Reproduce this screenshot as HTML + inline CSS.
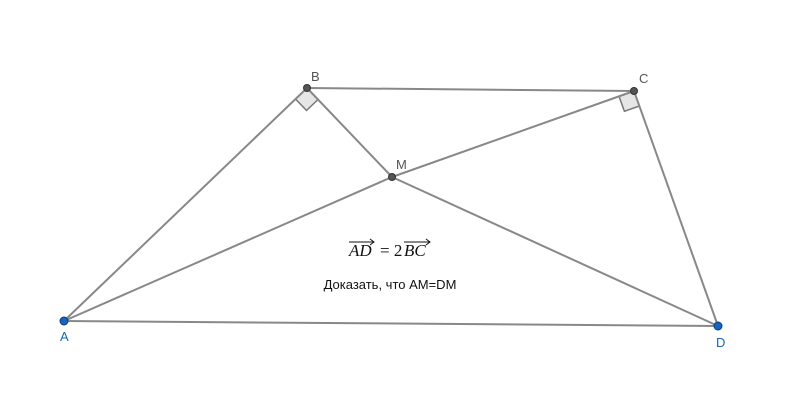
<!DOCTYPE html>
<html><head><meta charset="utf-8"><style>
body{margin:0;background:#fff;width:800px;height:413px;overflow:hidden}
</style></head><body>
<svg width="800" height="413" xmlns="http://www.w3.org/2000/svg">
<g stroke="#888" stroke-width="2" fill="none">
<polygon points="307,88 295.5,99 306.5,110.5 318,99.5" fill="#e6e6e6" stroke="#777" stroke-width="1.5"/>
<polygon points="634,91 619,96.3 624.4,111.3 639.4,106" fill="#e6e6e6" stroke="#777" stroke-width="1.5"/>
<line x1="64" y1="321" x2="307" y2="88"/>
<line x1="307" y1="88" x2="634" y2="91"/>
<line x1="634" y1="91" x2="718" y2="326"/>
<line x1="64" y1="321" x2="718" y2="326"/>
<line x1="64" y1="321" x2="392" y2="177"/>
<line x1="392" y1="177" x2="634" y2="91"/>
<line x1="307" y1="88" x2="392" y2="177"/>
<line x1="392" y1="177" x2="718" y2="326"/>
</g>
<g stroke="#333" stroke-width="1">
<circle cx="307" cy="88" r="3.5" fill="#555"/>
<circle cx="634" cy="91" r="3.5" fill="#555"/>
<circle cx="392" cy="177" r="3.5" fill="#555"/>
<circle cx="64" cy="321" r="4" fill="#1565c0" stroke="#0d3c7a"/>
<circle cx="718" cy="326" r="4" fill="#1565c0" stroke="#0d3c7a"/>
</g>
<g font-family="Liberation Sans, sans-serif" font-size="13">
<text x="311" y="81" fill="#555">B</text>
<text x="639" y="83" fill="#555">C</text>
<text x="396" y="169" fill="#555">M</text>
<text x="60" y="341" fill="#1565c0">A</text>
<text x="716" y="347" fill="#1565c0">D</text>
<text x="390" y="289" fill="#111" text-anchor="middle">Доказать, что AM=DM</text>
</g>
<g font-family="Liberation Serif, serif" font-size="17" fill="#111">
<text x="349" y="256" font-style="italic">AD</text>
<text x="380" y="256">= 2</text>
<text x="404" y="256" font-style="italic">BC</text>
</g>
<g stroke="#111" stroke-width="1" fill="none">
<line x1="349" y1="242" x2="374" y2="242"/><polyline points="370,239 374,242 370,245"/>
<line x1="404" y1="242" x2="430" y2="242"/><polyline points="426,239 430,242 426,245"/>
</g>
</svg>
</body></html>
